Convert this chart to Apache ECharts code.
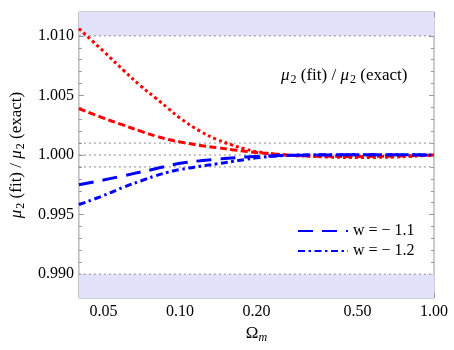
<!DOCTYPE html>
<html>
<head>
<meta charset="utf-8">
<script src="https://cdn.jsdelivr.net/npm/echarts@6/dist/echarts.min.js"></script>
<style>
  html, body { margin: 0; padding: 0; background: #fff; }
  #chart { width: 454px; height: 350px; }
</style>
</head>
<body>
<div id="chart"></div>
<script>
var omega = [0.04, 0.05, 0.06, 0.07, 0.08, 0.09, 0.10, 0.12, 0.14, 0.16, 0.18, 0.20, 0.25, 0.30, 0.40, 0.50, 0.60, 0.70, 0.80, 0.90, 1.00]
// red curves (no legend entry in the reference)
var redDotted = [1.0106, 1.0087, 1.0071, 1.0058, 1.0048, 1.0039, 1.0031, 1.0020, 1.0013, 1.00085, 1.00052, 1.00028, 1.00004, 0.99993, 0.99982, 0.99979, 0.99980, 0.99983, 0.99988, 0.99994, 1.0000]
var redDashed = [1.0039, 1.0031, 1.0025, 1.0020, 1.0016, 1.0013, 1.0011, 1.0008, 1.00062, 1.00045, 1.00032, 1.0002, 1.00003, 0.99994, 0.99989, 0.99988, 0.99989, 0.99991, 0.99994, 0.99997, 1.0000]
// w = -1.1 and w = -1.2
var blueDashed = [0.99750, 0.99790, 0.99826, 0.99857, 0.99884, 0.99910, 0.99930, 0.99952, 0.99965, 0.99975, 0.99983, 0.99988, 0.99995, 0.99998, 1.00001, 1.00002, 1.00002, 1.00002, 1.00002, 1.00001, 1.0000]
var blueDashDot = [0.99583, 0.99660, 0.99730, 0.99782, 0.99825, 0.99856, 0.99878, 0.99905, 0.99926, 0.99945, 0.99962, 0.99976, 0.99994, 1.00000, 1.00003, 1.00003, 1.00003, 1.00003, 1.00002, 1.00001, 1.0000]

var xRange = [0.04, 1]
var yRange = [0.988, 1.012]
var xMajor = [0.05, 0.1, 0.2, 0.5, 1]
var xMinor = [0.06, 0.07, 0.08, 0.09, 0.3, 0.4, 0.6, 0.7, 0.8, 0.9]
var yMajor = [0.990, 0.995, 1.000, 1.005, 1.010]
var yMinor = [0.989, 0.991, 0.992, 0.993, 0.994, 0.996, 0.997, 0.998, 0.999, 1.001, 1.002, 1.003, 1.004, 1.006, 1.007, 1.008, 1.009, 1.011]
var refLines = [1.010, 1.001, 1.000, 0.999, 0.990]

var font = 'Liberation Serif'
var frameColor = '#999'

function pairs (ys) {
  return omega.map(function (x, i) { return [x, ys[i]] })
}

var rich = {
  i: { fontFamily: font, fontStyle: 'italic', fontWeight: 'normal', fontSize: 17, color: '#000' },
  s: { fontFamily: font, fontWeight: 'normal', fontSize: 12, color: '#000', padding: [9, 0, 0, 1] },
  t: { fontFamily: font, fontWeight: 'normal', fontSize: 17, color: '#000' }
}
var muLabel = '{i|μ}{s|2}{t| (fit) / }{i|μ}{s|2}{t| (exact)}'

function xAxisDef (pos, values, len, labels) {
  return {
    type: 'log',
    logBase: 10,
    min: xRange[0],
    max: xRange[1],
    position: pos,
    axisLine: { show: false },
    splitLine: { show: false },
    axisTick: { inside: true, length: len, customValues: values, lineStyle: { color: frameColor } },
    axisLabel: labels
      ? { customValues: values, margin: 6, fontFamily: font, fontSize: 16, color: '#000', formatter: function (v) { return v.toFixed(2) } }
      : { show: false }
  }
}

function yAxisDef (pos, values, len, labels) {
  return {
    type: 'value',
    min: yRange[0],
    max: yRange[1],
    position: pos,
    axisLine: { show: false },
    splitLine: { show: false },
    axisTick: { inside: true, length: len, customValues: values, lineStyle: { color: frameColor } },
    axisLabel: labels
      ? { customValues: values, margin: 5, fontFamily: font, fontSize: 16, color: '#000', formatter: function (v) { return v.toFixed(3) } }
      : { show: false }
  }
}

var xAxes = [
  xAxisDef('bottom', xMajor, 5, true),
  xAxisDef('bottom', xMinor, 3, false),
  xAxisDef('top', xMajor, 5, false),
  xAxisDef('top', xMinor, 3, false)
]
xAxes[0].name = '{t|Ω}{m|m}'
xAxes[0].nameLocation = 'middle'
xAxes[0].nameGap = 25
xAxes[0].nameTextStyle = {
  rich: {
    t: { fontFamily: font, fontSize: 17, color: '#000' },
    m: { fontFamily: font, fontStyle: 'italic', fontSize: 12, color: '#000', padding: [9, 0, 0, 0] }
  }
}

var yAxes = [
  yAxisDef('left', yMajor, 5, true),
  yAxisDef('left', yMinor, 3, false),
  yAxisDef('right', yMajor, 5, false),
  yAxisDef('right', yMinor, 3, false)
]
yAxes[0].name = muLabel
yAxes[0].nameLocation = 'middle'
yAxes[0].nameRotate = 90
yAxes[0].nameGap = 42
yAxes[0].nameTextStyle = { rich: rich }

// dotted horizontal reference lines, one small series each
var refSeries = refLines.map(function (v) {
  return {
    name: 'ref ' + v,
    type: 'line',
    z: 2,
    silent: true,
    showSymbol: false,
    symbol: 'none',
    data: [[xRange[0], v], [xRange[1], v]],
    lineStyle: { color: '#888', width: 1, type: [2, 3] }
  }
})

var myChart = echarts.init(document.getElementById('chart'))
var option = {
  animation: false,
  backgroundColor: '#fff',
  grid: {
    left: 77,
    right: 20,
    top: 12,
    bottom: 52,
    show: true,
    borderColor: frameColor,
    borderWidth: 1
  },
  title: {
    text: muLabel,
    left: 276,
    top: 60,
    textStyle: { fontWeight: 'normal', rich: rich }
  },
  legend: {
    data: ['w = − 1.1', 'w = − 1.2'],
    orient: 'vertical',
    left: 292,
    top: 218,
    itemWidth: 50,
    itemHeight: 14,
    itemGap: 4,
    itemStyle: { opacity: 0 },
    textStyle: { fontFamily: font, fontSize: 16, color: '#000' }
  },
  xAxis: xAxes,
  yAxis: yAxes,
  series: [
    {
      name: 'bands',
      type: 'line',
      data: [],
      z: 1,
      silent: true,
      markArea: {
        silent: true,
        itemStyle: { color: '#E2E2FA' },
        data: [
          [{ yAxis: 1.010 }, { yAxis: yRange[1] }],
          [{ yAxis: yRange[0] }, { yAxis: 0.990 }]
        ]
      }
    }
  ].concat(refSeries, [
    {
      name: 'red dotted',
      type: 'line',
      z: 3,
      smooth: true,
      showSymbol: false,
      data: pairs(redDotted),
      lineStyle: { color: '#FF0000', width: 3, type: [3, 3] }
    },
    {
      name: 'red dashed',
      type: 'line',
      z: 3,
      smooth: true,
      showSymbol: false,
      data: pairs(redDashed),
      lineStyle: { color: '#FF0000', width: 3, type: [7, 3.5] }
    },
    {
      name: 'w = − 1.1',
      type: 'line',
      z: 4,
      smooth: true,
      showSymbol: false,
      symbol: 'none',
      itemStyle: { color: '#0000FF' },
      data: pairs(blueDashed),
      lineStyle: { color: '#0000FF', width: 3, type: [15, 9] }
    },
    {
      name: 'w = − 1.2',
      type: 'line',
      z: 4,
      smooth: true,
      showSymbol: false,
      symbol: 'none',
      itemStyle: { color: '#0000FF' },
      data: pairs(blueDashDot),
      lineStyle: { color: '#0000FF', width: 3, type: [7, 3.5, 2.5, 3.5] }
    }
  ])
}
myChart.setOption(option)
</script>
</body>
</html>
